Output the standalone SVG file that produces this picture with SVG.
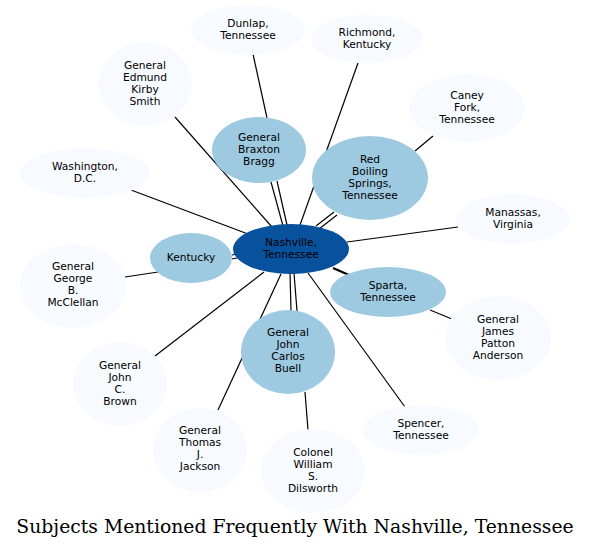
<svg xmlns="http://www.w3.org/2000/svg" width="591" height="549" viewBox="0 0 591 549">
<style>
.e{stroke:#000;stroke-width:1.2;fill:none}
.l{fill:#f7fbff}
.m{fill:#9ecae1}
.d{fill:#08519c}
text{font-family:"DejaVu Sans",sans-serif;font-size:10.67px;text-anchor:middle;fill:#000}
.t{font-family:"DejaVu Serif",serif;font-size:18.8px}
</style>
<rect width="591" height="549" fill="#fff"/>
<g id="edges">
<line class="e" x1="253" y1="54" x2="267" y2="118"/>
<line class="e" x1="271" y1="182" x2="283" y2="226"/>
<line class="e" x1="277" y1="181" x2="287" y2="225"/>
<line class="e" x1="358" y1="63" x2="300" y2="225"/>
<line class="e" x1="175" y1="117" x2="272" y2="227"/>
<line class="e" x1="433" y1="136" x2="415" y2="151"/>
<line class="e" x1="316" y1="226" x2="334" y2="212"/>
<line class="e" x1="319" y1="229" x2="337" y2="215"/>
<line class="e" x1="131" y1="190" x2="248" y2="234"/>
<line class="e" x1="458" y1="227" x2="347" y2="242"/>
<line class="e" x1="232" y1="255" x2="237" y2="254"/>
<line class="e" x1="232" y1="259" x2="237" y2="258"/>
<line class="e" x1="125" y1="277" x2="158" y2="272"/>
<line class="e" x1="155" y1="356" x2="264" y2="272"/>
<line class="e" x1="218" y1="410" x2="281" y2="274"/>
<line class="e" x1="290" y1="273" x2="291" y2="311"/>
<line class="e" x1="294" y1="273" x2="297" y2="311"/>
<line class="e" x1="305" y1="392" x2="308" y2="430"/>
<line class="e" x1="405" y1="407" x2="308" y2="273"/>
<line class="e" x1="333" y1="268" x2="349" y2="275" style="stroke-width:2"/>
<line class="e" x1="430" y1="310" x2="452" y2="319"/>
</g>
<g id="n_dunlap"><ellipse class="l" cx="248" cy="30" rx="57" ry="25"/><text x="248" y="27">Dunlap,</text><text x="248" y="39">Tennessee</text></g>
<g id="n_richmond"><ellipse class="l" cx="367" cy="39" rx="56" ry="24"/><text x="367" y="36">Richmond,</text><text x="367" y="48">Kentucky</text></g>
<g id="n_kirby"><ellipse class="l" cx="145" cy="84" rx="47" ry="42"/><text x="145" y="69">General</text><text x="145" y="81">Edmund</text><text x="145" y="93">Kirby</text><text x="145" y="105">Smith</text></g>
<g id="n_bragg"><ellipse class="m" cx="259" cy="150" rx="47" ry="33"/><text x="259" y="141">General</text><text x="259" y="153">Braxton</text><text x="259" y="165">Bragg</text></g>
<g id="n_caney"><ellipse class="l" cx="467" cy="108" rx="58" ry="34"/><text x="467" y="99">Caney</text><text x="467" y="111">Fork,</text><text x="467" y="123">Tennessee</text></g>
<g id="n_redboiling"><ellipse class="m" cx="370" cy="178" rx="58" ry="42"/><text x="370" y="163">Red</text><text x="370" y="175">Boiling</text><text x="370" y="187">Springs,</text><text x="370" y="199">Tennessee</text></g>
<g id="n_washington"><ellipse class="l" cx="85" cy="173" rx="65" ry="25"/><text x="85" y="170">Washington,</text><text x="85" y="182">D.C.</text></g>
<g id="n_manassas"><ellipse class="l" cx="513" cy="219" rx="57" ry="25"/><text x="513" y="216">Manassas,</text><text x="513" y="228">Virginia</text></g>
<g id="n_kentucky"><ellipse class="m" cx="191" cy="258" rx="41" ry="25"/><text x="191" y="261">Kentucky</text></g>
<g id="n_nashville"><ellipse class="d" cx="291" cy="249" rx="58" ry="25"/><text x="291" y="246">Nashville,</text><text x="291" y="258">Tennessee</text></g>
<g id="n_sparta"><ellipse class="m" cx="388" cy="292" rx="58" ry="25"/><text x="388" y="289">Sparta,</text><text x="388" y="301">Tennessee</text></g>
<g id="n_mcclellan"><ellipse class="l" cx="73" cy="286" rx="53" ry="42"/><text x="73" y="270">General</text><text x="73" y="282">George</text><text x="73" y="294">B.</text><text x="73" y="306">McClellan</text></g>
<g id="n_anderson"><ellipse class="l" cx="498" cy="338" rx="53" ry="42"/><text x="498" y="323">General</text><text x="498" y="335">James</text><text x="498" y="347">Patton</text><text x="498" y="359">Anderson</text></g>
<g id="n_buell"><ellipse class="m" cx="288" cy="352" rx="47" ry="42"/><text x="288" y="336">General</text><text x="288" y="348">John</text><text x="288" y="360">Carlos</text><text x="288" y="372">Buell</text></g>
<g id="n_brown"><ellipse class="l" cx="120" cy="384" rx="47" ry="42"/><text x="120" y="369">General</text><text x="120" y="381">John</text><text x="120" y="393">C.</text><text x="120" y="405">Brown</text></g>
<g id="n_spencer"><ellipse class="l" cx="421" cy="430" rx="58" ry="25"/><text x="421" y="427">Spencer,</text><text x="421" y="439">Tennessee</text></g>
<g id="n_jackson"><ellipse class="l" cx="200" cy="450" rx="47" ry="42"/><text x="200" y="434">General</text><text x="200" y="446">Thomas</text><text x="200" y="458">J.</text><text x="200" y="470">Jackson</text></g>
<g id="n_dilsworth"><ellipse class="l" cx="313" cy="471" rx="52" ry="42"/><text x="313" y="456">Colonel</text><text x="313" y="468">William</text><text x="313" y="480">S.</text><text x="313" y="492">Dilsworth</text></g>
<text class="t" x="295" y="533">Subjects Mentioned Frequently With Nashville, Tennessee</text>
</svg>
